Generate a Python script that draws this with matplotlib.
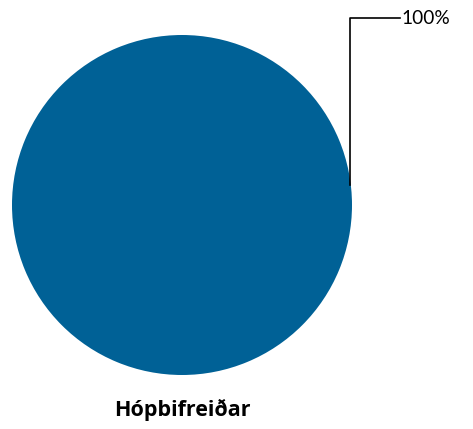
import matplotlib
matplotlib.use("Agg")
import matplotlib.pyplot as plt

# data
categories = ['Hópbifreiðar']
values = [100]
colors = ['#006196']

W, H = 473, 429
fig = plt.figure(figsize=(W / 100, H / 100), dpi=100)
ax = fig.add_axes([0, 0, 1, 1])

cx, cy, r = 182, H - 205, 170
ax.pie(values, colors=colors, center=(cx, cy), radius=r, startangle=90,
       counterclock=False, frame=True)
ax.set_xlim(0, W)
ax.set_ylim(0, H)
ax.set_aspect('equal')
ax.axis('off')

# leader line and percentage label
pct = f"{values[0] / sum(values) * 100:.0f}%"
ax.plot([350, 350, 400], [H - 185, H - 18, H - 18], color='black', lw=1.2)
ax.text(401, H - 18, pct, ha='left', va='center', fontsize=13.8,
        family=['Lato', 'DejaVu Sans'])

# category label
ax.text(cx, H - 410, categories[0], ha='center', va='center', fontsize=15.5,
        fontweight='bold', family=['Open Sans', 'DejaVu Sans'])

fig.savefig('out.png', dpi=100)
